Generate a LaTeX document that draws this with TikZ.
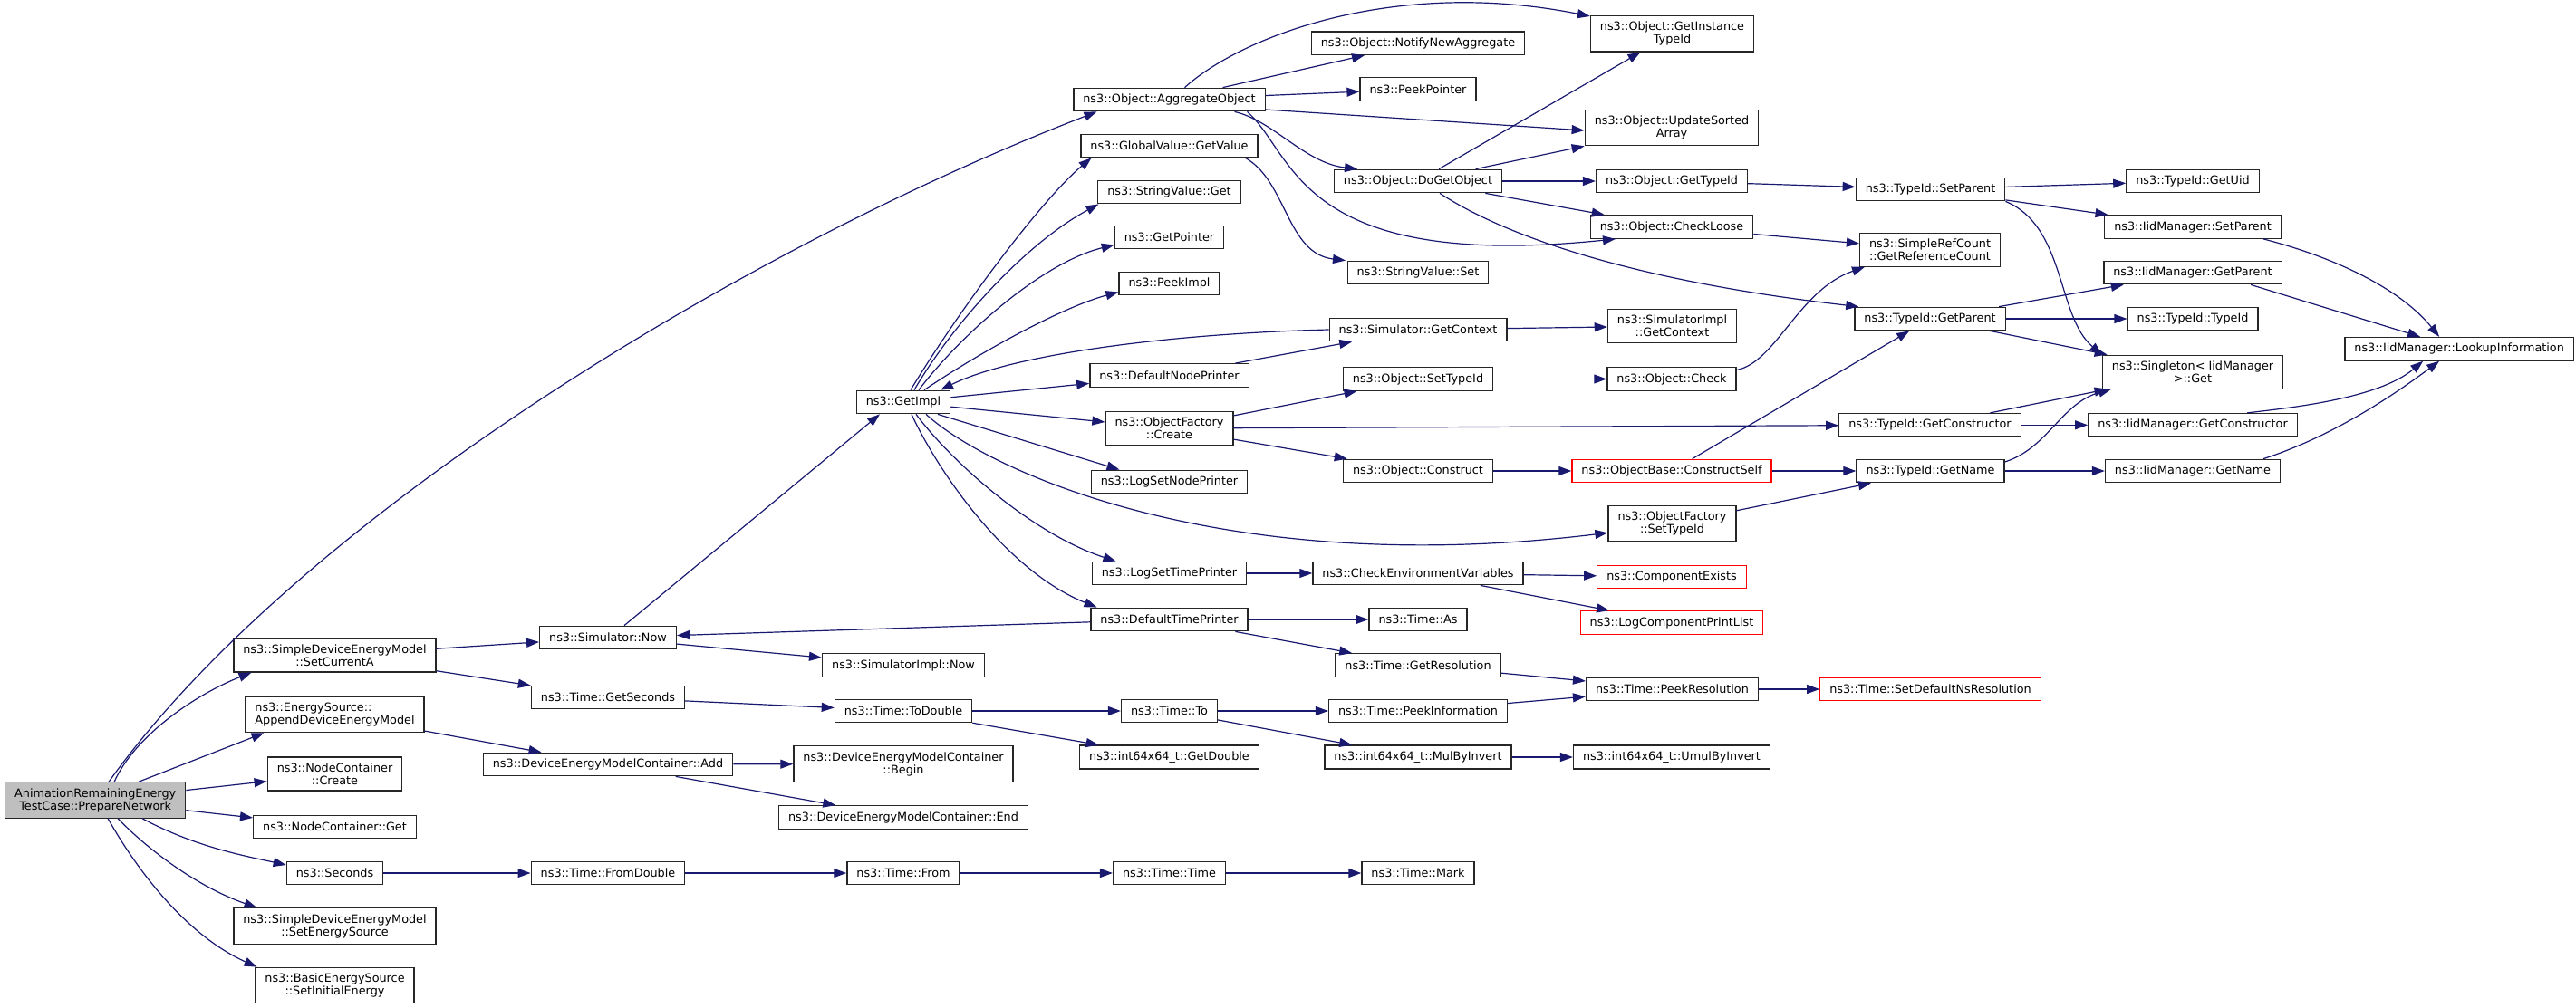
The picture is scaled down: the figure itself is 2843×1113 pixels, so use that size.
\documentclass[tikz,border=0pt]{standalone}
\usepackage{fontspec}
\setmainfont{DejaVu Sans}
\usetikzlibrary{arrows.meta}
\definecolor{edgeblue}{HTML}{191970}
\definecolor{rootgray}{HTML}{BFBFBF}

\begin{document}
\begin{tikzpicture}[x=1pt, y=-1pt,
    fn/.style={draw=black!85, line width=1.3pt, fill=white, inner xsep=10.5pt, inner ysep=6.5pt,
        minimum height=25.5pt, align=center, font=\fontsize{12.8}{14}\selectfont},
    fnroot/.style={fn, fill=rootgray},
    fntrunc/.style={fn, draw=red},
    call/.style={draw=edgeblue, line width=1.2pt, -{Triangle[length=14pt, width=10pt]}}]
    \useasboundingbox (0,0) rectangle (2843,1113);

    % Root
    \node[fnroot, anchor=west] (root) at (5,883.5) {AnimationRemainingEnergy\\TestCase::PrepareNetwork};

    % Column 1
    \node[fn] (setCurA) at (369.5,723.5) {ns3::SimpleDeviceEnergyModel\\::SetCurrentA};
    \node[fn, align=left] (appendDEM) at (369.5,789) {ns3::EnergySource::\\AppendDeviceEnergyModel};
    \node[fn] (ncCreate) at (369.5,854.5) {ns3::NodeContainer\\::Create};
    \node[fn] (ncGet) at (369.5,913) {ns3::NodeContainer::Get};
    \node[fn] (seconds) at (369.5,964) {ns3::Seconds};
    \node[fn] (setES) at (369.5,1022.5) {ns3::SimpleDeviceEnergyModel\\::SetEnergySource};
    \node[fn] (setIE) at (369.5,1088) {ns3::BasicEnergySource\\::SetInitialEnergy};

    % Column 2
    \node[fn] (simNow) at (671,704) {ns3::Simulator::Now};
    \node[fn] (getSec) at (671,770) {ns3::Time::GetSeconds};
    \node[fn] (demcAdd) at (671,844) {ns3::DeviceEnergyModelContainer::Add};
    \node[fn] (fromDbl) at (671,964) {ns3::Time::FromDouble};

    % Column 3
    \node[fn] (getImpl) at (997,444) {ns3::GetImpl};
    \node[fn] (simImplNow) at (997,734.5) {ns3::SimulatorImpl::Now};
    \node[fn] (toDbl) at (997,785) {ns3::Time::ToDouble};
    \node[fn] (demcBegin) at (997,843.5) {ns3::DeviceEnergyModelContainer\\::Begin};
    \node[fn] (demcEnd) at (997,902.5) {ns3::DeviceEnergyModelContainer::End};
    \node[fn] (timeFrom) at (997,964) {ns3::Time::From};

    % Column 4
    \node[fn] (aggObj) at (1290.5,110) {ns3::Object::AggregateObject};
    \node[fn] (gvGetValue) at (1290.5,161) {ns3::GlobalValue::GetValue};
    \node[fn] (svGet) at (1290.5,212) {ns3::StringValue::Get};
    \node[fn] (getPtr) at (1290.5,262) {ns3::GetPointer};
    \node[fn] (peekImpl) at (1290.5,313) {ns3::PeekImpl};
    \node[fn] (defNodePr) at (1290.5,414.5) {ns3::DefaultNodePrinter};
    \node[fn] (ofCreate) at (1290.5,473) {ns3::ObjectFactory\\::Create};
    \node[fn] (logSetNodePr) at (1290.5,532) {ns3::LogSetNodePrinter};
    \node[fn] (logSetTimePr) at (1290.5,633) {ns3::LogSetTimePrinter};
    \node[fn] (defTimePr) at (1290.5,684) {ns3::DefaultTimePrinter};
    \node[fn] (timeTo) at (1290.5,785) {ns3::Time::To};
    \node[fn] (getDouble) at (1290.5,836) {ns3::int64x64\_t::GetDouble};
    \node[fn] (timeTime) at (1290.5,964) {ns3::Time::Time};

    % Column 5
    \node[fn] (notifyNA) at (1565,47.7) {ns3::Object::NotifyNewAggregate};
    \node[fn] (peekPtr) at (1565,98.5) {ns3::PeekPointer};
    \node[fn] (doGetObj) at (1565,200) {ns3::Object::DoGetObject};
    \node[fn] (svSet) at (1565,301) {ns3::StringValue::Set};
    \node[fn] (simGetCtx) at (1565,364) {ns3::Simulator::GetContext};
    \node[fn] (objSetTid) at (1565,418.5) {ns3::Object::SetTypeId};
    \node[fn] (objConstruct) at (1565,520) {ns3::Object::Construct};
    \node[fn] (checkEnv) at (1565,633) {ns3::CheckEnvironmentVariables};
    \node[fn] (timeAs) at (1565,684) {ns3::Time::As};
    \node[fn] (getRes) at (1565,734.5) {ns3::Time::GetResolution};
    \node[fn] (peekInfo) at (1565,785) {ns3::Time::PeekInformation};
    \node[fn] (mulByInv) at (1565,836) {ns3::int64x64\_t::MulByInvert};
    \node[fn] (timeMark) at (1565,964) {ns3::Time::Mark};

    % Column 6
    \node[fn] (getInstTid) at (1845.5,37.3) {ns3::Object::GetInstance\\TypeId};
    \node[fn] (updSorted) at (1845,141) {ns3::Object::UpdateSorted\\Array};
    \node[fn] (objGetTid) at (1845,200) {ns3::Object::GetTypeId};
    \node[fn] (checkLoose) at (1845,250.5) {ns3::Object::CheckLoose};
    \node[fn] (simImplGetCtx) at (1845.5,360) {ns3::SimulatorImpl\\::GetContext};
    \node[fn] (objCheck) at (1845,418.5) {ns3::Object::Check};
    \node[fntrunc] (constructSelf) at (1845,520) {ns3::ObjectBase::ConstructSelf};
    \node[fn] (ofSetTid) at (1845.5,578.3) {ns3::ObjectFactory\\::SetTypeId};
    \node[fntrunc] (compExists) at (1845,637) {ns3::ComponentExists};
    \node[fntrunc] (logCompPL) at (1845,687.5) {ns3::LogComponentPrintList};
    \node[fn] (peekRes) at (1845.5,761) {ns3::Time::PeekResolution};
    \node[fn] (umulByInv) at (1845,836) {ns3::int64x64\_t::UmulByInvert};

    % Column 7
    \node[fn] (tidSetParent) at (2130.5,209) {ns3::TypeId::SetParent};
    \node[fn] (refCount) at (2130,275.7) {ns3::SimpleRefCount\\::GetReferenceCount};
    \node[fn] (tidGetParent) at (2130,352) {ns3::TypeId::GetParent};
    \node[fn] (tidGetCtor) at (2130,469.3) {ns3::TypeId::GetConstructor};
    \node[fn] (tidGetName) at (2130.5,520) {ns3::TypeId::GetName};
    \node[fntrunc] (setDefNsRes) at (2130.5,761) {ns3::Time::SetDefaultNsResolution};

    % Column 8
    \node[fn] (tidGetUid) at (2420,200) {ns3::TypeId::GetUid};
    \node[fn] (iidSetParent) at (2420,250.5) {ns3::IidManager::SetParent};
    \node[fn] (iidGetParent) at (2420,301) {ns3::IidManager::GetParent};
    \node[fn] (tidTypeId) at (2420,352) {ns3::TypeId::TypeId};
    \node[fn] (singletonGet) at (2420,410.7) {ns3::Singleton< IidManager\\ >::Get};
    \node[fn] (iidGetCtor) at (2420,469.3) {ns3::IidManager::GetConstructor};
    \node[fn] (iidGetName) at (2420,520) {ns3::IidManager::GetName};

    % Column 9
    \node[fn, anchor=east] (lookupInfo) at (2841,385.3) {ns3::IidManager::LookupInformation};

    % Calls from the root
    \draw[call] ([xshift=15pt]root.north) .. controls (330,570) and (830,270) .. ([xshift=-80pt]aggObj.south);
    \draw[call] ([xshift=21pt]root.north) .. controls (150,810) and (220,765) .. ([xshift=-92pt]setCurA.south);
    \draw[call] ([xshift=48pt]root.north) -- ([xshift=-78pt]appendDEM.south);
    \draw[call] (root) -- (ncCreate);
    \draw[call] (root) -- (ncGet);
    \draw[call] ([xshift=52pt]root.south) .. controls (215,935) and (270,945) .. ([yshift=9pt]seconds.west);
    \draw[call] ([xshift=25pt]root.south) .. controls (165,940) and (220,980) .. ([xshift=-86pt]setES.north);
    \draw[call] ([xshift=14pt]root.south) .. controls (145,950) and (200,1030) .. ([xshift=-86pt]setIE.north);

    % Energy model and time
    \draw[call] (setCurA) -- (simNow);
    \draw[call] (setCurA) -- (getSec);
    \draw[call] ([xshift=18pt]simNow.north) -- ([xshift=-26pt]getImpl.south);
    \draw[call] (simNow) -- (simImplNow);
    \draw[call] (defTimePr) -- (simNow);
    \draw[call] (appendDEM) -- (demcAdd);
    \draw[call] (demcAdd) -- (demcBegin);
    \draw[call] (demcAdd) -- (demcEnd);
    \draw[call] (getSec) -- (toDbl);
    \draw[call] (toDbl) -- (timeTo);
    \draw[call] (toDbl) -- (getDouble);
    \draw[call] (timeTo) -- (peekInfo);
    \draw[call] (timeTo) -- (mulByInv);
    \draw[call] (peekInfo) -- (peekRes);
    \draw[call] (getRes) -- (peekRes);
    \draw[call] (mulByInv) -- (umulByInv);
    \draw[call] (peekRes) -- (setDefNsRes);
    \draw[call] (seconds) -- (fromDbl);
    \draw[call] (fromDbl) -- (timeFrom);
    \draw[call] (timeFrom) -- (timeTime);
    \draw[call] (timeTime) -- (timeMark);

    % Calls from GetImpl
    \draw[call] ([xshift=8pt]getImpl.north) .. controls (1060,340) and (1150,220) .. ([xshift=-86pt]gvGetValue.south);
    \draw[call] ([xshift=12pt]getImpl.north) .. controls (1050,360) and (1130,270) .. ([xshift=-78pt]svGet.south);
    \draw[call] ([xshift=17pt]getImpl.north) .. controls (1060,370) and (1150,290) .. ([yshift=5pt]getPtr.south west);
    \draw[call] ([xshift=23pt]getImpl.north) .. controls (1080,390) and (1170,340) .. ([yshift=4pt]peekImpl.south west);
    \draw[call] (simGetCtx.west) .. controls (1300,368) and (1120,390) .. ([xshift=41pt]getImpl.north);
    \draw[call] (getImpl) -- (defNodePr);
    \draw[call] (getImpl) -- (ofCreate);
    \draw[call] ([xshift=38pt]getImpl.south) -- ([xshift=-55pt]logSetNodePr.north);
    \draw[call] ([xshift=25pt]getImpl.south) .. controls (1090,520) and (1350,640) .. ([yshift=-10pt]ofSetTid.west);
    \draw[call] ([xshift=14pt]getImpl.south) .. controls (1050,510) and (1140,590) .. ([xshift=-59pt]logSetTimePr.north);
    \draw[call] ([xshift=9pt]getImpl.south) .. controls (1035,520) and (1110,630) .. ([xshift=-80pt]defTimePr.north);
    \draw[call] (defNodePr) -- (simGetCtx);
    \draw[call] (simGetCtx) -- (simImplGetCtx);
    \draw[call] (logSetTimePr) -- (checkEnv);
    \draw[call] (checkEnv) -- (compExists);
    \draw[call] (checkEnv) -- (logCompPL);
    \draw[call] (defTimePr) -- (timeAs);
    \draw[call] (defTimePr) -- (getRes);
    \draw[call] ([xshift=84pt]gvGetValue.south) .. controls (1420,200) and (1420,280) .. ([xshift=-80pt]svSet.north);

    % Object factory
    \draw[call] (ofCreate) -- (objSetTid);
    \draw[call] (ofCreate) -- (tidGetCtor);
    \draw[call] (ofCreate) -- (objConstruct);
    \draw[call] (objSetTid) -- (objCheck);
    \draw[call] (objConstruct) -- (constructSelf);
    \draw[call] (constructSelf) -- (tidGetParent);
    \draw[call] (constructSelf) -- (tidGetName);
    \draw[call] (ofSetTid) -- (tidGetName);
    \draw[call] ([yshift=10pt]objCheck.east) .. controls (1960,400) and (1985,320) .. ([xshift=-72pt]refCount.south);

    % Aggregation
    \draw[call] ([xshift=17pt]aggObj.north) .. controls (1370,40) and (1540,-25) .. ([yshift=-1pt]getInstTid.north west);
    \draw[call] (aggObj) -- (notifyNA);
    \draw[call] (aggObj) -- (peekPtr);
    \draw[call] ([yshift=-11pt]aggObj.east) -- ([yshift=-3pt]updSorted.west);
    \draw[call] ([xshift=72pt]aggObj.south) .. controls (1405,133) and (1440,180) .. ([xshift=-67pt]doGetObj.north);
    \draw[call] ([xshift=86pt]aggObj.south) .. controls (1430,170) and (1430,300) .. ([xshift=-62pt]checkLoose.south);
    \draw[call] (doGetObj) -- (getInstTid);
    \draw[call] (doGetObj) -- (updSorted);
    \draw[call] (doGetObj) -- (objGetTid);
    \draw[call] (doGetObj) -- (checkLoose);
    \draw[call] ([xshift=24pt]doGetObj.south) .. controls (1660,260) and (1800,310) .. ([xshift=5pt]tidGetParent.north west);
    \draw[call] (objGetTid) -- (tidSetParent);
    \draw[call] (checkLoose) -- (refCount);

    % TypeId and IidManager
    \draw[call] (tidSetParent) -- (tidGetUid);
    \draw[call] (tidSetParent) -- (iidSetParent);
    \draw[call] (tidSetParent.south east) .. controls (2280,250) and (2270,350) .. ([xshift=-100pt]singletonGet.north);
    \draw[call] (tidGetParent) -- (iidGetParent);
    \draw[call] (tidGetParent) -- (tidTypeId);
    \draw[call] (tidGetParent) -- (singletonGet);
    \draw[call] (tidGetCtor) -- (singletonGet);
    \draw[call] (tidGetCtor) -- (iidGetCtor);
    \draw[call] ([yshift=10pt]tidGetName.east) .. controls (2260,495) and (2275,445) .. ([xshift=-90pt]singletonGet.south);
    \draw[call] (tidGetName) -- (iidGetName);
    \draw[call] ([xshift=78pt]iidSetParent.south) .. controls (2580,285) and (2650,320) .. ([xshift=-22pt]lookupInfo.north);
    \draw[call] ([xshift=64pt]iidGetParent.south) -- ([xshift=-43pt]lookupInfo.north);
    \draw[call] ([xshift=60pt]iidGetCtor.north) .. controls (2530,450) and (2625,440) .. ([xshift=-40pt]lookupInfo.south);
    \draw[call] ([xshift=78pt]iidGetName.north) .. controls (2580,480) and (2650,430) .. ([xshift=-22pt]lookupInfo.south);
\end{tikzpicture}
\end{document}
